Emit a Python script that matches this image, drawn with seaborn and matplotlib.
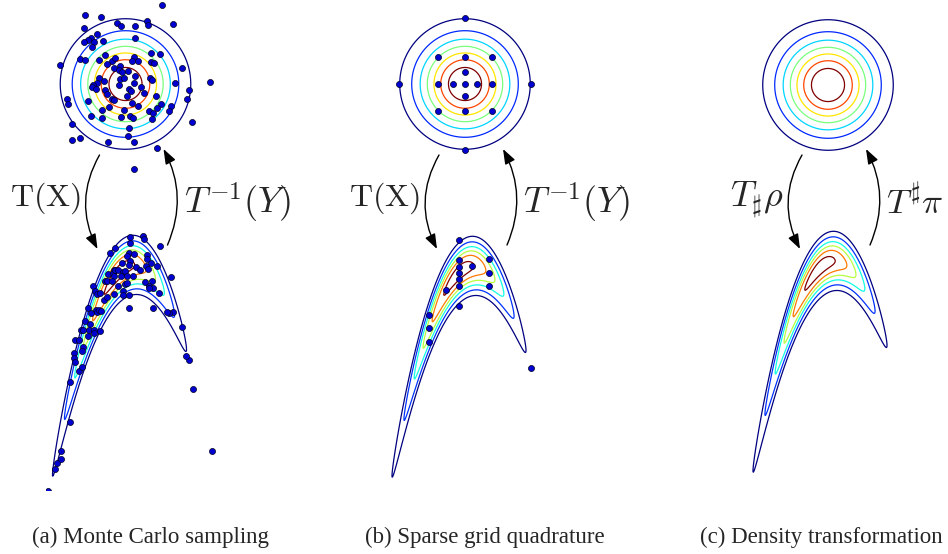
import numpy as np
import matplotlib
matplotlib.use('Agg')
import matplotlib.pyplot as plt
import seaborn as sns

sns.set_theme(style='white')
plt.rcParams['mathtext.fontset'] = 'cm'
plt.rcParams['font.family'] = ['Liberation Serif', 'DejaVu Serif']

W, H = 948, 554

# Monte Carlo samples (standard normal) plot
mc_x1 = [1.15, -1.26, -0.76, 0.66, -0.26, -0.13, 0.29, 0.70, 1.47, -1.31,
         -0.90, -1.09, -1.16, -1.30, -0.99, -0.69, 0.30, -1.05, 0.79, 1.07,
         -0.63, -2.05, -1.41, -1.26, -0.82, -0.42, -0.33, -0.57, 0.27, 0.20,
         0.40, 0.79, 0.89, 1.78, -0.36, -0.17, -0.19, -0.12, 0.08, 0.31,
         -0.84, -0.88, -0.67, -0.17, -0.04, 0.28, -0.21, 0.77, 0.82, 1.54,
         2.64, -1.03, -1.06, -0.91, -0.64, 0.11, 0.17, 0.47, 0.59, 1.98,
         -0.59, 0.05, -0.43, -0.37, 0.94, -1.84, -1.79, -1.17, 0.20, 0.39,
         1.12, 1.42, 1.91, -0.53, -0.74, -0.04, 0.74, 0.85, 0.97, 1.36,
         -1.07, -0.73, -0.15, 0.15, 0.22, 0.83, -1.66, 2.09, 0.10, -1.42,
         -1.66, 0.09, -0.56, 0.27, 0.97, 0.27]
mc_x2 = [2.47, 2.16, 2.10, 1.98, 1.92, 1.82, 1.82, 1.84, 1.86, 1.76,
         1.55, 1.45, 1.38, 1.31, 1.32, 1.35, 1.45, 1.17, 0.96, 0.94,
         0.90, 0.58, 0.79, 0.75, 0.75, 0.73, 0.80, 0.61, 0.83, 0.72,
         0.72, 0.68, 0.65, 0.50, 0.51, 0.55, 0.44, 0.39, 0.42, 0.26,
         0.18, 0.04, 0.08, 0.16, 0.19, 0.04, -0.02, 0.20, 0.13, 0.02,
         0.05, -0.03, -0.08, -0.17, -0.20, -0.17, -0.22, -0.10, -0.28, -0.19,
         -0.32, -0.38, -0.46, -0.50, -0.38, -0.48, -0.64, -0.53, -0.60, -0.68,
         -0.63, -0.69, -0.48, -0.71, -0.80, -0.82, -0.84, -0.90, -0.74, -0.85,
         -1.00, -1.05, -1.02, -1.00, -1.05, -1.09, -1.24, -1.18, -1.36, -1.68,
         -1.75, -1.63, -1.81, -1.81, -2.01, -2.66]

# sparse grid (nested) nodes in the reference space
sg_x1 = [0, -0.365, 0.365, 0, 0, -0.85, 0.85, 0, 0,
         -0.85, -0.85, 0.85, 0.85, -2.06, 2.06, 0, 0]
sg_x2 = [0, 0, 0, -0.365, 0.365, 0, 0, -0.85, 0.85,
         -0.85, 0.85, -0.85, 0.85, 0, 0, -2.06, 2.06]

# banana map parameters
rho = 0.9
bend = 1.05

ref_fracs = [1/8, 2/8, 3/8, 4/8, 5/8, 6/8, 7/8]
tgt_fracs = [0.16, 0.29, 0.44, 0.59, 0.745, 0.91]

labels_left = [r'$\mathrm{T}(\mathrm{X})$', r'$\mathrm{T}(\mathrm{X})$', r'$T_\sharp\rho$']
labels_right = [r'$T^{-1}(Y)$', r'$T^{-1}(Y)$', r'$T^\sharp\pi$']
captions = ['(a) Monte Carlo sampling', '(b) Sparse grid quadrature',
            '(c) Density transformation']

# layout (pixels)
cx = [125.5, 465, 828]
cy = [84, 84, 85]
bshift = [-6, -6, -8]
by = [272, 273, 268]
cap_x = [150, 485, 821]
s_ref, sx, sy = 32, 35, 36.4


def px_axes(fig, left, top, w, h):
    ax = fig.add_axes([left / W, 1 - (top + h) / H, w / W, h / H])
    ax.set_axis_off()
    return ax


def to_target(x1, x2):
    x1 = np.asarray(x1, float)
    x2 = np.asarray(x2, float)
    z2 = rho * x1 + np.sqrt(1 - rho ** 2) * x2
    return x1, z2 - bend * x1 ** 2


def ref_pdf(a, b):
    return np.exp(-(a ** 2 + b ** 2) / 2) / (2 * np.pi)


def tgt_pdf(y1, y2):
    z1, z2 = y1, y2 + bend * y1 ** 2
    q = (z1 ** 2 - 2 * rho * z1 * z2 + z2 ** 2) / (1 - rho ** 2)
    return np.exp(-q / 2) / (2 * np.pi * np.sqrt(1 - rho ** 2))


fig = plt.figure(figsize=(W / 100, H / 100), dpi=100)
dot = dict(s=19, color='#0000d0', edgecolor='#000022', linewidth=0.5, zorder=3)

for k in range(3):
    # reference Gaussian
    ax = px_axes(fig, cx[k] - 3 * s_ref, cy[k] - 2.6 * s_ref, 6 * s_ref, 5.35 * s_ref)
    g = np.linspace(-3, 3, 400)
    GX, GY = np.meshgrid(g, np.linspace(-2.75, 2.6, 400))
    Z = ref_pdf(GX, GY)
    ax.contour(GX, GY, Z, levels=[f / (2 * np.pi) for f in ref_fracs],
               cmap='jet', linewidths=0.9)
    if k == 0:
        sns.scatterplot(x=mc_x1, y=mc_x2, ax=ax, clip_on=False, **dot)
    elif k == 1:
        sns.scatterplot(x=sg_x1, y=sg_x2, ax=ax, clip_on=False, **dot)
    ax.set_xlim(-3, 3)
    ax.set_ylim(-2.75, 2.6)
    ax.set_axis_off()

    # banana target
    bx = cx[k] + bshift[k]
    axb = px_axes(fig, bx - 74, 220, 171, 270)
    xl = (-74 / sx, 97 / sx)
    yl = (-(490 - by[k]) / sy, (by[k] - 220) / sy)
    Y1, Y2 = np.meshgrid(np.linspace(*xl, 900), np.linspace(*yl, 900))
    P = tgt_pdf(Y1, Y2)
    pmax = 1 / (2 * np.pi * np.sqrt(1 - rho ** 2))
    axb.contour(Y1, Y2, P, levels=[f * pmax for f in tgt_fracs],
                cmap='jet', linewidths=0.9)
    if k == 0:
        t1, t2 = to_target(mc_x1, mc_x2)
        sns.scatterplot(x=t1, y=t2, ax=axb, **dot)
    elif k == 1:
        t1, t2 = to_target(sg_x1, sg_x2)
        sns.scatterplot(x=t1, y=t2, ax=axb, **dot)
    axb.set_xlim(*xl)
    axb.set_ylim(*yl)
    axb.set_axis_off()

    # curved arrows
    off = cx[k]
    aprops = dict(arrowstyle='-|>,head_length=0.6,head_width=0.22', color='black',
                  lw=1.0, shrinkA=0, shrinkB=0, mutation_scale=15,
                  connectionstyle='arc3,rad=0.27')
    ax.annotate('', xy=(off - 28, H - 249), xytext=(off - 26, H - 155),
                xycoords='figure pixels', textcoords='figure pixels',
                arrowprops=aprops, annotation_clip=False)
    ax.annotate('', xy=(off + 38, H - 149), xytext=(off + 42, H - 245),
                xycoords='figure pixels', textcoords='figure pixels',
                arrowprops=dict(aprops, connectionstyle='arc3,rad=0.24'),
                annotation_clip=False)

    fig.text((off - 45) / W, 1 - 206 / H, labels_left[k], ha='right',
             va='baseline', fontsize=23 if k < 2 else 26)
    fig.text((off + 58) / W, 1 - 214 / H, labels_right[k], ha='left',
             va='baseline', fontsize=26 if k < 2 else 25)
    fig.text(cap_x[k] / W, 1 - 537 / H, captions[k], ha='center',
             va='center', fontsize=16.5)

fig.savefig('out.png', dpi=100, facecolor='white')
